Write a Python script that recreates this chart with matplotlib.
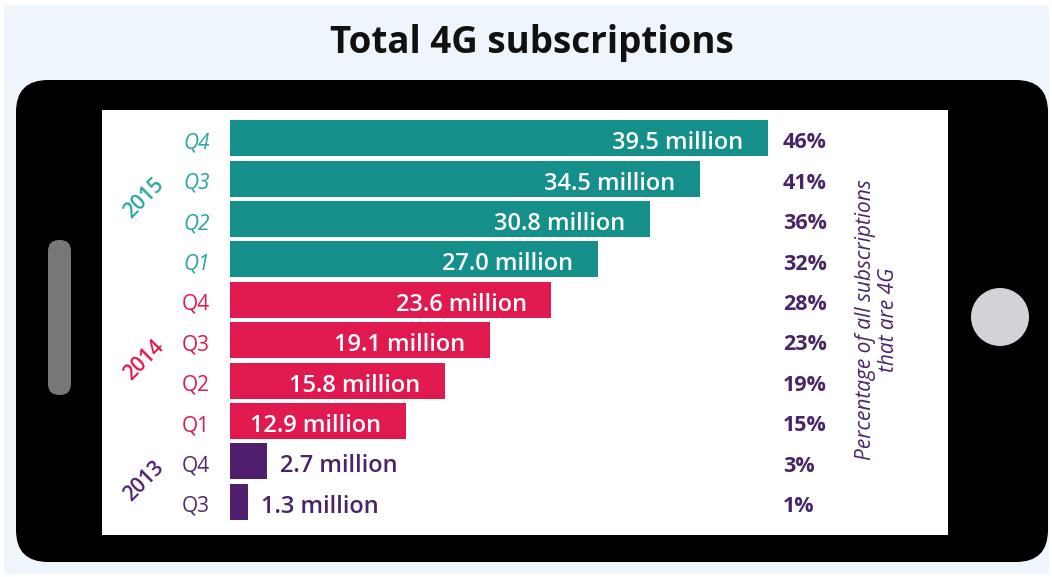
import matplotlib.pyplot as plt
from matplotlib.patches import FancyBboxPatch, Rectangle, Circle

# data, top to bottom
quarters = ['Q4', 'Q3', 'Q2', 'Q1', 'Q4', 'Q3', 'Q2', 'Q1', 'Q4', 'Q3']
years = ['2015', '2015', '2015', '2015', '2014', '2014', '2014', '2014', '2013', '2013']
subs = [39.5, 34.5, 30.8, 27.0, 23.6, 19.1, 15.8, 12.9, 2.7, 1.3]
share = [46, 41, 36, 32, 28, 23, 19, 15, 3, 1]

year_colors = {'2015': '#148f8a', '2014': '#e0194f', '2013': '#4f1f6e'}
label_colors = {'2015': '#2aa69e', '2014': '#e0194f', '2013': '#4f2a6e'}
purple = '#4a2468'

W, H = 1052, 577
fig = plt.figure(figsize=(W / 100, H / 100), dpi=100)
fig.patch.set_facecolor('white')

# decoration layer in pixel coordinates
bg = fig.add_axes([0, 0, 1, 1])
bg.set_xlim(0, W)
bg.set_ylim(H, 0)
bg.axis('off')
bg.add_patch(Rectangle((4, 5), 1045, 569, facecolor='#eff5fc', edgecolor='none'))
bg.add_patch(FancyBboxPatch((16, 80), 1032, 482, boxstyle='round,pad=0,rounding_size=32',
                            facecolor='black', edgecolor='none'))
bg.add_patch(Rectangle((102, 110), 846, 425, facecolor='white', edgecolor='none'))
bg.add_patch(FancyBboxPatch((48, 240), 23, 155, boxstyle='round,pad=0,rounding_size=11',
                            facecolor='#77777a', edgecolor='none'))
bg.add_patch(Circle((1000, 317), 29, facecolor='#d2d2d8', edgecolor='none'))
bg.text(532, 53, 'Total 4G subscriptions', ha='center', va='baseline',
        fontsize=26.5, fontweight='bold', family='Open Sans', color='#111111')

# bar layer: x in millions, one slot per quarter
ax = fig.add_axes([230 / W, 1 - 522 / H, 613 / W, 404 / H])
ax.set_xlim(0, 45)
ax.set_ylim(len(subs) - 0.5, -0.5)
ax.axis('off')
ypos = list(range(len(subs)))
ax.barh(ypos, subs, height=0.89, color=[year_colors[y] for y in years])

off = 0.27  # baseline offset below bar centre
for i, (q, yr, v, p) in enumerate(zip(quarters, years, subs, share)):
    txt = f'{v:.1f} million'
    if v > 5:
        ax.text(v - 1.8, i + off, txt, ha='right', va='baseline', color='white',
                fontsize=17, fontweight='semibold', family='Open Sans')
    else:
        ax.text(v + 1.0, i + off, txt, ha='left', va='baseline', color=purple,
                fontsize=17, fontweight='semibold', family='Open Sans')
    ax.text(-1.45, i + off - 0.02, q, ha='right', va='baseline', color=label_colors[yr],
            fontsize=15, style='italic' if yr == '2015' else 'normal', family='Open Sans')
    ax.text(40.6, i + off - 0.02, f'{p}%', ha='left', va='baseline', color=purple,
            fontsize=15.5, fontweight='bold', family='Open Sans')

# rotated year labels centred on their groups
for yr in ['2015', '2014', '2013']:
    idx = [i for i, y in enumerate(years) if y == yr]
    mid = sum(idx) / len(idx)
    ax.text(-6.3, mid, yr, ha='center', va='center', rotation=45,
            color=year_colors[yr] if yr != '2015' else label_colors[yr],
            fontsize=15, fontweight='semibold', family='Open Sans')

ax.text(47.5, 4.5, 'Percentage of all subscriptions\nthat are 4G', ha='center', va='center',
        rotation=90, color=purple, fontsize=15, style='italic', family='Open Sans',
        linespacing=1.15)

fig.savefig('out.png', dpi=100)
